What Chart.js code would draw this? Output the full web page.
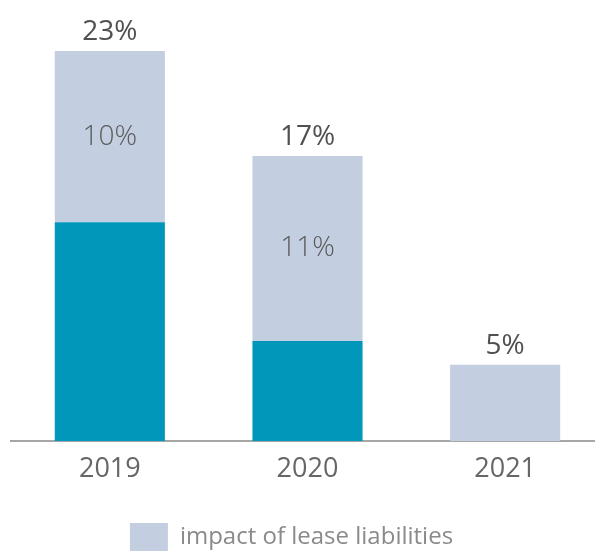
<!DOCTYPE html>
<html>
<head>
<meta charset="utf-8">
<script src="https://cdn.jsdelivr.net/npm/chart.js@4/dist/chart.umd.min.js"></script>
<style>
html,body{margin:0;padding:0;background:#fff;overflow:hidden;width:595px;height:551px;}
canvas{display:block;}
</style>
</head>
<body>
<canvas id="c" width="604" height="561"></canvas>
<script>
const categories = ["2019", "2020", "2021"];
const baseValues = [12.9, 5.9, 0];
const leaseValues = [10.1, 10.9, 4.5];
const leaseLabel = "impact of lease liabilities";

const labelPlugin = {
  id: 'barLabels',
  afterLayout(chart) {
    if (chart.legend) { chart.legend.left -= 16; chart.legend.right -= 16; }
  },
  afterDatasetsDraw(chart) {
    const ctx = chart.ctx;
    const metaTop = chart.getDatasetMeta(1);
    ctx.save();
    ctx.textAlign = 'center';
    metaTop.data.forEach((bar, i) => {
      const total = baseValues[i] + leaseValues[i];
      ctx.fillStyle = '#505050';
      ctx.font = '400 28px "Open Sans"';
      ctx.textBaseline = 'alphabetic';
      ctx.fillText(Math.round(total) + '%', bar.x, bar.y - 11);
      if (baseValues[i] > 0) {
        ctx.fillStyle = '#5a5a5a';
        ctx.font = '300 28px "Open Sans"';
        ctx.textBaseline = 'middle';
        const mid = (bar.y + bar.base) / 2;
        ctx.fillText(Math.round(leaseValues[i]) + '%', bar.x, mid);
      }
    });
    ctx.restore();
  }
};

new Chart(document.getElementById('c'), {
  type: 'bar',
  data: {
    labels: categories,
    datasets: [
      { label: 'base', data: baseValues, backgroundColor: '#0097bb', borderWidth: 0 },
      { label: leaseLabel, data: leaseValues, backgroundColor: '#c3cee0', borderWidth: 0 }
    ]
  },
  options: {
    responsive: false,
    animation: false,
    devicePixelRatio: 1,
    layout: { padding: { top: 17, left: 11, right: 0, bottom: 0 } },
    datasets: { bar: { categoryPercentage: 1.0, barPercentage: 0.557 } },
    plugins: {
      tooltip: { enabled: false },
      legend: {
        position: 'bottom',
        labels: {
          filter: (item) => item.datasetIndex === 1,
          boxWidth: 38,
          boxHeight: 28,
          color: '#8a8a8a',
          font: { family: '"Open Sans"', size: 24 },
          padding: 0
        }
      }
    },
    scales: {
      x: {
        stacked: true,
        afterFit: (s) => { s.height = 82; },
        grid: { display: false, drawTicks: false },
        border: { display: true, color: '#a6a6a6', width: 2 },
        ticks: { color: '#666666', font: { family: '"Open Sans"', size: 27 }, padding: 12 }
      },
      y: {
        stacked: true,
        display: false,
        min: 0,
        max: 25
      }
    }
  },
  plugins: [labelPlugin]
});
</script>
</body>
</html>
